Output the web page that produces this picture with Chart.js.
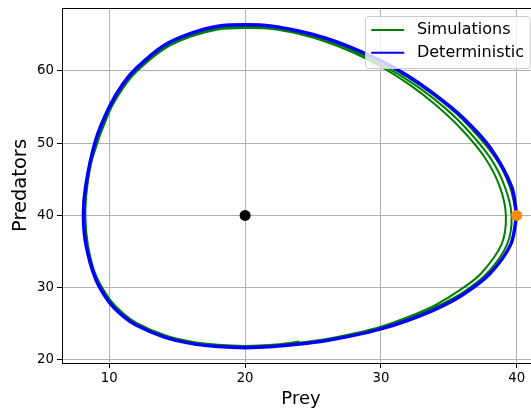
<!DOCTYPE html>
<html>
<head>
<meta charset="utf-8">
<script src="https://cdn.jsdelivr.net/npm/chart.js@4.4.1/dist/chart.umd.min.js"></script>
<style>
  html, body { margin: 0; padding: 0; overflow: hidden; background: #fff; }
</style>
</head>
<body>
<canvas id="phase_plot" width="531" height="408"></canvas>
<script>
// deterministic orbit, counter-clockwise from the start point
const prey_det = [40, 39.62, 38, 36, 34, 32, 30, 28, 26, 24, 22, 20, 18, 16, 14, 12, 11, 10, 9, 8.26, 8.1,
  8.28, 9, 10, 11, 12, 14, 16, 18, 20, 22, 24, 26, 28, 30, 32, 34, 36, 38, 39.56, 40]
const pred_det = [40, 44, 49.5, 53.6, 56.7, 59.3, 61.4, 63.1, 64.5, 65.5, 66.2, 66.4, 66.2, 65.2, 63.5, 60.4, 58.2, 55.0, 50.4, 44, 40,
  36, 31.2, 28.0, 26.1, 24.8, 23.2, 22.3, 21.86, 21.7, 21.85, 22.2, 22.7, 23.4, 24.3, 25.5, 27.0, 29.0, 31.9, 36, 40]

// simulated run, drifting slowly inwards on the prey-rich side
const prey_sim = [
  40, 39.49, 38.42, 36, 34, 32, 30, 28, 26, 24, 22, 20, 18, 16, 14, 12, 11, 10, 8.66, 8.28,
  8.14, 8.32, 8.85, 10, 11, 12, 14, 16, 18, 20, 22, 24, 26, 28, 30, 32, 34, 36, 37.82, 39.29,
  39.62, 39.12, 38.04, 36, 34, 32, 30, 28, 26, 24, 22, 20, 18, 16, 14, 12, 11, 10, 8.72, 8.33,
  8.19, 8.38, 8.91, 10, 11, 12, 14, 16, 18, 20, 22, 24, 26, 28, 30, 32, 34, 36, 37.39, 38.88,
  39.2, 38.75, 37.66, 36, 34, 32, 30, 28, 26, 24, 22, 20, 18, 16, 14, 12, 11, 10, 8.77, 8.38,
  8.24, 8.42, 8.96, 10, 11, 12, 14, 16, 18, 20, 22, 24]
const pred_sim = [
  40, 44, 48, 53.3, 56.5, 59.1, 61.3, 63.0, 64.4, 65.4, 66.1, 66.3, 66.1, 65.2, 63.4, 60.3, 58.1, 54.9, 48, 44,
  40, 36, 32, 28.1, 26.2, 24.9, 23.3, 22.4, 21.9, 21.8, 21.9, 22.2, 22.7, 23.5, 24.4, 25.65, 27.3, 29.3, 32, 36,
  40, 44, 48, 52.6, 56.0, 58.7, 60.9, 62.75, 64.2, 65.3, 66.0, 66.15, 65.9, 65.0, 63.2, 60.1, 57.8, 54.6, 48, 44,
  40, 36, 32, 28.4, 26.4, 25.0, 23.4, 22.5, 22.0, 21.9, 22.0, 22.4, 22.9, 23.65, 24.6, 25.95, 27.6, 29.9, 32, 36,
  40, 44, 48, 51.8, 55.35, 58.25, 60.6, 62.5, 64.0, 65.1, 65.8, 65.95, 65.75, 64.75, 63.0, 59.9, 57.6, 54.35, 48, 44,
  40, 36, 32, 28.5, 26.5, 25.15, 23.5, 22.55, 22.1, 21.95, 22.1, 22.55]

const equilibrium = [20, 40]
const start_point = [40, 40]

const x_ticks = [10, 20, 30, 40]
const y_ticks = [20, 30, 40, 50, 60]

Chart.defaults.font.family = '"DejaVu Sans", sans-serif'
Chart.defaults.color = '#000'

function to_points(xs, ys){
  return xs.map((x, i) => ({x: x, y: ys[i]}))
}

function axis_options(min, max, ticks, title, title_size, title_pad){
  return {
    type: 'linear',
    min: min,
    max: max,
    afterBuildTicks: axis => { axis.ticks = ticks.map(v => ({value: v})) },
    grid: {color: '#b0b0b0', lineWidth: 1, tickColor: '#000', tickLength: 5, tickWidth: 1},
    border: {color: '#000', width: 1},
    ticks: {color: '#000', font: {size: 13.3}, padding: 3, maxRotation: 0},
    title: {display: !!title, text: title, color: '#000', font: {size: title_size}, padding: title_pad}
  }
}

// top spine, x label (centred on the full axes box, which runs past the right edge) and legend
const frame_and_legend = {
  id: 'frame_and_legend',
  afterDatasetsDraw(chart){
    const ctx = chart.ctx, area = chart.chartArea
    ctx.save()
    ctx.beginPath()
    ctx.moveTo(area.left, area.top + 0.5)
    ctx.lineTo(area.right, area.top + 0.5)
    ctx.strokeStyle = '#000'
    ctx.lineWidth = 1
    ctx.stroke()
    ctx.restore()
  },
  afterDraw(chart){
    const ctx = chart.ctx, area = chart.chartArea
    ctx.save()
    ctx.font = '18px "DejaVu Sans"'
    ctx.fillStyle = '#000'
    ctx.textAlign = 'center'
    ctx.textBaseline = 'alphabetic'
    ctx.fillText('Prey', (area.left + area.right + 9) / 2, 404)

    const items = chart.data.datasets.filter(d => d.label)
    ctx.font = '16px "DejaVu Sans"'
    ctx.textAlign = 'left'
    let text_w = Math.max(...items.map(d => ctx.measureText(d.label).width))
    let w = 6 + 33 + 12.7 + text_w + 6
    let h = 52
    let right = area.right - 1
    let top = area.top + 8
    let left = right - w
    ctx.beginPath()
    ctx.roundRect(Math.round(left) + 0.5, top + 0.5, w, h, 3)
    ctx.fillStyle = 'rgba(255,255,255,0.8)'
    ctx.fill()
    ctx.strokeStyle = '#cccccc'
    ctx.lineWidth = 1
    ctx.stroke()
    items.forEach((d, i) => {
      let y = top + 14 + i * 22.7
      ctx.beginPath()
      ctx.moveTo(left + 6, y)
      ctx.lineTo(left + 39, y)
      ctx.strokeStyle = d.borderColor
      ctx.lineWidth = 2
      ctx.stroke()
      ctx.fillStyle = '#000'
      ctx.textBaseline = 'middle'
      ctx.fillText(d.label, left + 51.7, y)
    })
    ctx.restore()
  }
}

let x_axis = axis_options(6.52, 41.05, x_ticks, '', 18, 0)
x_axis.afterFit = axis => { axis.height = 45; axis.paddingLeft = 0; axis.paddingRight = 0 }
let y_axis = axis_options(19.58, 68.72, y_ticks, 'Predators', 19.5, {top: 9.3, bottom: 0})
y_axis.afterFit = axis => { axis.width = 62; axis.paddingTop = 0; axis.paddingBottom = 0 }

new Chart(document.getElementById('phase_plot').getContext('2d'), {
  type: 'scatter',
  data: {
    datasets: [
      {
        label: 'Simulations',
        data: to_points(prey_sim, pred_sim),
        showLine: true, tension: 0.3, pointRadius: 0,
        borderColor: '#008000', borderWidth: 2, fill: false, order: 3
      },
      {
        label: 'Deterministic',
        data: to_points(prey_det, pred_det),
        showLine: true, tension: 0.3, pointRadius: 0,
        borderColor: '#0000ff', borderWidth: 3.5, fill: false, order: 2
      },
      {
        data: [{x: equilibrium[0], y: equilibrium[1]}],
        pointRadius: 5.5, backgroundColor: '#000', borderWidth: 0, order: 1
      },
      {
        data: [{x: start_point[0], y: start_point[1]}],
        pointRadius: 5.5, backgroundColor: '#ff8c00', borderWidth: 0, order: 0
      }
    ]
  },
  options: {
    responsive: false,
    animation: false,
    events: [],
    layout: {autoPadding: false, padding: {top: 8, left: 0, right: 0, bottom: 0}},
    plugins: {legend: {display: false}, tooltip: {enabled: false}},
    scales: {x: x_axis, y: y_axis}
  },
  plugins: [frame_and_legend]
})
</script>
</body>
</html>
